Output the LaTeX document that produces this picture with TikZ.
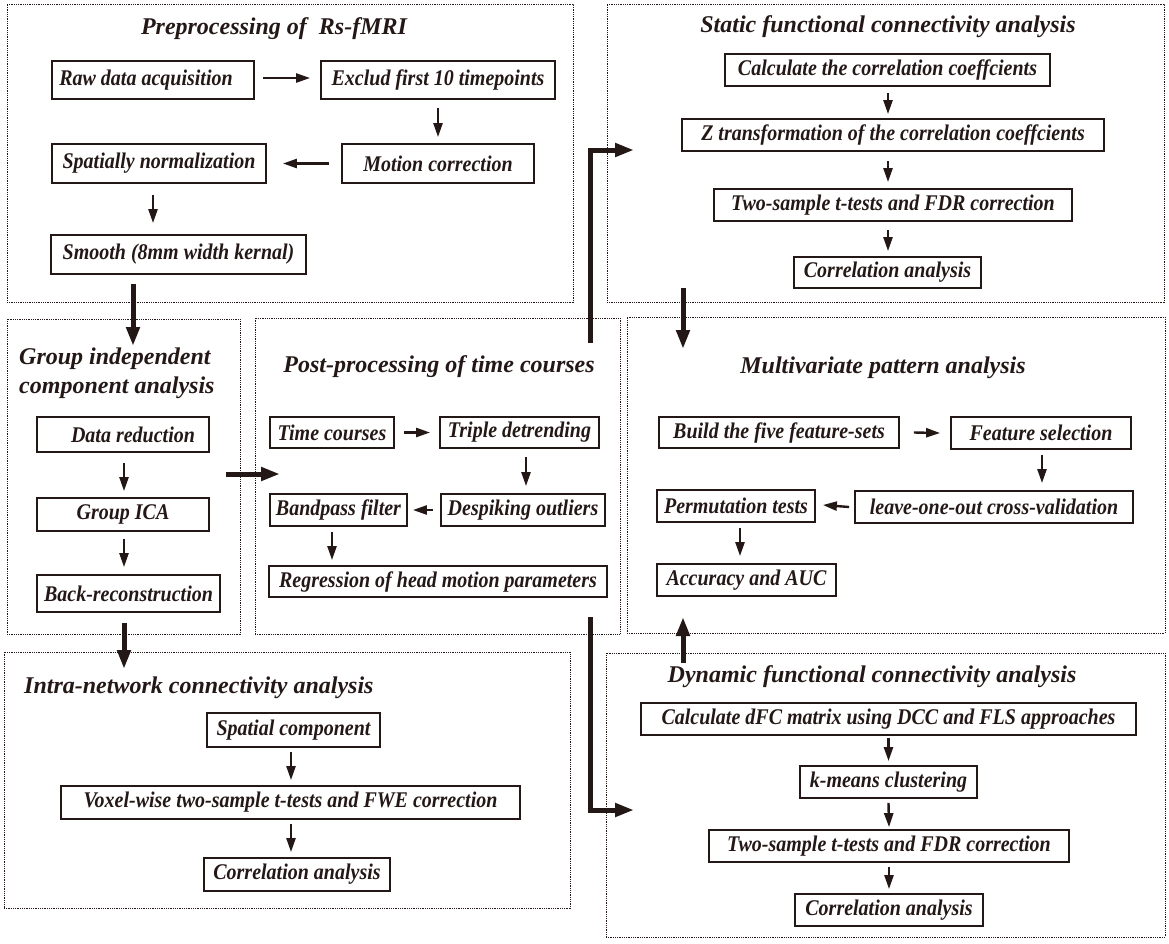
\documentclass[tikz,border=0pt]{standalone}
\usepackage{fontspec}
\usepackage{graphicx}
\setmainfont{Liberation Serif}
\usetikzlibrary{arrows.meta}
\definecolor{ink}{RGB}{35,24,21}
\newcommand\bxnode[6]{\node[bx, minimum width={#4-#2}, minimum height={#5-#3}] (#1) at ({(#2+#4)/2},{(#3+#5)/2}) {\scalebox{1}[1.12]{#6}};}
\newcommand\pnode[5]{\node[panel, minimum width={#4-#2}, minimum height={#5-#3}] (#1) at ({(#2+#4)/2},{(#3+#5)/2}) {};}
\begin{document}
\begin{tikzpicture}[x=1pt,y=-1pt,
 bx/.style={draw=ink, line width=1.8pt, inner sep=0pt, text=ink, font=\fontsize{20}{24}\selectfont\bfseries\itshape},
 panel/.style={draw=ink, line width=0.9pt, dash pattern=on 0.9pt off 0.9pt, inner sep=0pt},
 ttl/.style={text=ink, font=\fontsize{24}{29}\selectfont\bfseries\itshape, inner sep=0pt},
 sarr/.style={draw=ink, line width=2.4pt, -{Triangle[length=14pt,width=9pt]}},
 barr/.style={draw=ink, line width=5pt, -{Triangle[length=19pt,width=13pt]}}]
\useasboundingbox (0,0) rectangle (1169,943);
% panels
\pnode{pA}{7}{4}{573}{302}
\pnode{pB}{7}{319}{240}{634}
\pnode{pC}{255}{318}{620}{634}
\pnode{pD}{607}{4}{1164}{302}
\pnode{pE}{627}{317}{1165}{633}
\pnode{pF}{4}{652}{570}{908}
\pnode{pG}{606}{653}{1165}{937}
% titles
\node[ttl] (tA) at (274,29) {Preprocessing of\ \ Rs-fMRI};
\node[ttl, anchor=west, align=left] (tB) at (19,373.5) {Group independent\\component analysis};
\node[ttl] (tC) at (439,367) {Post-processing of time courses};
\node[ttl] (tD) at (888,27) {Static functional connectivity analysis};
\node[ttl] (tE) at (883,368) {Multivariate pattern analysis};
\node[ttl, anchor=west] (tF) at (24,688) {Intra-network connectivity analysis};
\node[ttl] (tG) at (872,677) {Dynamic functional connectivity analysis};
% panel A
\bxnode{raw}{52}{61}{254}{99}{\hspace*{-14pt}Raw data acquisition}
\bxnode{ex}{321}{61}{555}{99}{Exclud first 10 timepoints}
\bxnode{mo}{342}{144}{534}{183}{Motion correction}
\bxnode{sp}{52}{144}{266}{183}{Spatially normalization}
\bxnode{sm}{51}{235}{306}{274}{Smooth (8mm width kernal)}
% panel B
\bxnode{dr}{37}{417}{209}{452}{\hspace*{20pt}Data reduction}
\bxnode{gi}{37}{498}{209}{531}{Group ICA}
\bxnode{br}{37}{575}{220}{612}{Back-reconstruction}
% panel C
\bxnode{tc}{270}{417}{394}{448}{Time courses}
\bxnode{td}{440}{417}{599}{448}{Triple detrending}
\bxnode{ds}{441}{494}{605}{526}{Despiking outliers}
\bxnode{bp}{270}{494}{407}{526}{Bandpass filter}
\bxnode{rg}{269}{566}{607}{597}{Regression of head motion parameters}
% panel D
\bxnode{d1}{725}{54}{1050}{86}{Calculate the correlation coeffcients}
\bxnode{d2}{682}{119}{1104}{151}{Z transformation of the correlation coeffcients}
\bxnode{d3}{714}{189}{1072}{221}{Two-sample t-tests and FDR correction}
\bxnode{d4}{794}{257}{981}{288}{Correlation analysis}
% panel E
\bxnode{e1}{659}{417}{899}{448}{Build the five feature-sets}
\bxnode{e2}{951}{417}{1131}{449}{Feature selection}
\bxnode{e3}{855}{491}{1133}{523}{leave-one-out cross-validation}
\bxnode{e4}{657}{490}{815}{522}{Permutation tests}
\bxnode{e5}{657}{564}{836}{596}{Accuracy and AUC}
% panel F
\bxnode{f1}{207}{713}{380}{747}{Spatial component}
\bxnode{f2}{61}{786}{520}{819}{Voxel-wise two-sample t-tests and FWE correction}
\bxnode{f3}{204}{858}{390}{891}{Correlation analysis}
% panel G
\bxnode{g1}{641}{703}{1136}{735}{Calculate dFC matrix using DCC and FLS approaches}
\bxnode{g2}{800}{766}{977}{798}{k-means clustering}
\bxnode{g3}{709}{830}{1069}{862}{Two-sample t-tests and FDR correction}
\bxnode{g4}{795}{894}{983}{926}{Correlation analysis}
% free ends of the big connectors
\coordinate (gin) at (133,346);
\coordinate (fin) at (124,669);
\coordinate (bo) at (226,474);
\coordinate (cin) at (280,474);
\coordinate (ctop) at (590,343);
\coordinate (din) at (634,150);
\coordinate (cbot) at (590,617);
\coordinate (gin2) at (634,810);
\coordinate (dout) at (683,288);
\coordinate (ein) at (683,349);
\coordinate (gout) at (683,663);
\coordinate (ein2) at (683,617);
% small arrows
\draw[sarr] ([xshift=8.5pt,yshift=2pt]raw.east) -- ([xshift=-10pt,yshift=2pt]ex.west);
\draw[sarr] ([yshift=-8pt]ex.south) -- ([yshift=6pt]mo.north);
\draw[sarr] ([xshift=-12pt]mo.west) -- ([xshift=16pt]sp.east);
\draw[sarr] ([xshift=-6pt,yshift=-11pt]sp.south) -- ([xshift=-25.5pt,yshift=11pt]sm.north);
\draw[sarr] ([xshift=1pt,yshift=-10pt]dr.south) -- ([xshift=1pt,yshift=6pt]gi.north);
\draw[sarr] ([xshift=1pt,yshift=-7pt]gi.south) -- ([xshift=-4.5pt,yshift=7pt]br.north);
\draw[sarr] ([xshift=9pt]tc.east) -- ([xshift=-9pt]td.west);
\draw[sarr] ([xshift=6.5pt,yshift=-8pt]td.south) -- ([xshift=3pt,yshift=7pt]ds.north);
\draw[sarr] ([xshift=-7pt]ds.west) -- ([xshift=5pt]bp.east);
\draw[sarr] ([xshift=-6.5pt,yshift=-5pt]bp.south) -- ([xshift=-106pt,yshift=5pt]rg.north);
\draw[sarr] ([xshift=0.5pt,yshift=-6pt]d1.south) -- ([xshift=-5pt,yshift=4pt]d2.north);
\draw[sarr] ([xshift=-5pt,yshift=-9pt]d2.south) -- ([xshift=-5pt,yshift=6pt]d3.north);
\draw[sarr] ([xshift=-5pt,yshift=-8pt]d3.south) -- ([xshift=0.5pt,yshift=5pt]d4.north);
\draw[sarr] ([xshift=14pt]e1.east) -- ([xshift=-10pt]e2.west);
\draw[sarr] ([xshift=1pt,yshift=-5pt]e2.south) -- ([xshift=48pt,yshift=7pt]e3.north);
\draw[sarr] ([xshift=-5pt]e3.west) -- ([xshift=7pt,yshift=1pt]e4.east);
\draw[sarr] ([xshift=4pt,yshift=-5pt]e4.south) -- ([xshift=-6.5pt,yshift=7pt]e5.north);
\draw[sarr] ([xshift=-2.5pt,yshift=-4pt]f1.south) -- ([xshift=0.5pt,yshift=5pt]f2.north);
\draw[sarr] ([xshift=0.5pt,yshift=-4pt]f2.south) -- ([xshift=-6pt,yshift=5pt]f3.north);
\draw[sarr] ([yshift=-2pt]g1.south) -- ([yshift=4pt]g2.north);
\draw[sarr] ([yshift=-4pt]g2.south) -- ([yshift=2pt]g3.north);
\draw[sarr] ([yshift=-4pt]g3.south) -- ([yshift=4pt]g4.north);
% big arrows
\draw[barr] ([xshift=-45.5pt,yshift=-9pt]sm.south) -- (gin);
\draw[barr] ([xshift=-4.5pt,yshift=-10pt]br.south) -- (fin);
\draw[barr] (bo) -- (cin);
\draw[barr] (ctop) |- (din);
\draw[barr] (cbot) |- (gin2);
\draw[barr] (dout) -- (ein);
\draw[barr] (gout) -- (ein2);
\end{tikzpicture}
\end{document}
